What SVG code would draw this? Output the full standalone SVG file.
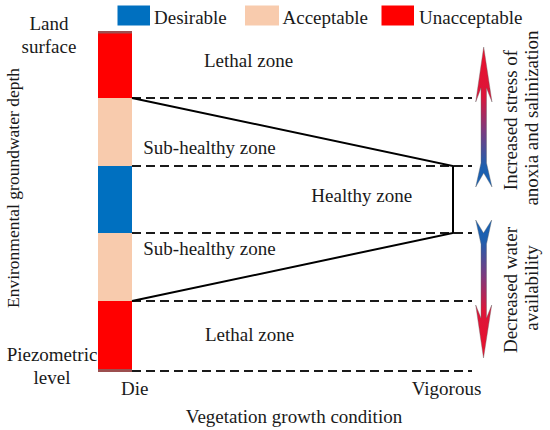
<svg xmlns="http://www.w3.org/2000/svg" width="550" height="430" viewBox="0 0 550 430">
<style>
text{font-family:"Liberation Serif","Times New Roman",serif;font-size:19px;fill:#1a1a1a}
.mid{text-anchor:middle}
.dash{stroke:#1a1a1a;stroke-width:2;stroke-dasharray:9 5;fill:none}
.solid{stroke:#000;stroke-width:2;fill:none}
.red{fill:#ff0000}.peach{fill:#f8cbad}.blue{fill:#0070c0}
.edge{fill:#9c4f4f}
.arrow{stroke:#666;stroke-width:0.4}
</style>
<defs>
<linearGradient id="gUp" gradientUnits="userSpaceOnUse" x1="0" y1="47" x2="0" y2="187">
<stop offset="0" stop-color="#ea102c"/>
<stop offset="0.35" stop-color="#dc163a"/>
<stop offset="0.6" stop-color="#7b3b80"/>
<stop offset="0.85" stop-color="#1e5fae"/>
<stop offset="1" stop-color="#1762b6"/>
</linearGradient>
<linearGradient id="gDown" gradientUnits="userSpaceOnUse" x1="0" y1="220" x2="0" y2="358">
<stop offset="0" stop-color="#1762b6"/>
<stop offset="0.15" stop-color="#1e5fae"/>
<stop offset="0.4" stop-color="#7b3b80"/>
<stop offset="0.65" stop-color="#dc163a"/>
<stop offset="1" stop-color="#ea102c"/>
</linearGradient>
</defs>
<rect width="550" height="430" fill="#fff"/>

<g id="legend">
<rect class="blue" x="117.5" y="5.5" width="32.5" height="20"/>
<text x="154" y="24">Desirable</text>
<rect class="peach" x="245" y="5.5" width="34" height="20"/>
<text x="282.5" y="24">Acceptable</text>
<rect class="red" x="381.5" y="5.5" width="32.5" height="20"/>
<text x="419" y="24">Unacceptable</text>
</g>

<g id="depth-bar">
<rect class="edge" x="98" y="31" width="34" height="3"/>
<rect class="red" x="98" y="33.5" width="34" height="64.5"/>
<rect class="peach" x="98" y="98" width="34" height="68"/>
<rect class="blue" x="98" y="166" width="34" height="67"/>
<rect class="peach" x="98" y="233" width="34" height="68"/>
<rect class="red" x="98" y="301" width="34" height="68.5"/>
<rect class="edge" x="98" y="369" width="34" height="3"/>
</g>

<g id="connectors">
<line class="dash" x1="132" y1="98" x2="472" y2="98"/>
<line class="dash" x1="132" y1="166" x2="472" y2="166"/>
<line class="dash" x1="132" y1="233" x2="472" y2="233"/>
<line class="dash" x1="132" y1="301" x2="472" y2="301"/>
<line class="dash" x1="132" y1="371" x2="472" y2="371"/>
<polyline class="solid" points="132,98 453,166 453,233 132,301"/>
</g>

<g id="zone-labels">
<text class="mid" x="248.5" y="67">Lethal zone</text>
<text class="mid" x="209.5" y="154">Sub-healthy zone</text>
<text class="mid" x="361.7" y="202">Healthy zone</text>
<text class="mid" x="209.5" y="255">Sub-healthy zone</text>
<text class="mid" x="249.5" y="340.5">Lethal zone</text>
</g>

<g id="arrow-up">
<path class="arrow" fill="url(#gUp)" d="M483.7,47 L492,102 L486.5,88 L486.5,163 L492,187 L483.7,173 L475.7,187 L481,163 L481,88 L475.7,102 Z"/>
</g>
<g id="arrow-down">
<path class="arrow" fill="url(#gDown)" d="M475.7,220 L483.5,233 L491.7,220 L486.5,244 L486.5,318 L491.7,305 L483.5,358 L475.7,305 L481,318 L481,244 Z"/>
</g>

<g id="axis-labels">
<text class="mid" x="49" y="30">Land</text>
<text class="mid" x="49" y="52.5">surface</text>
<text class="mid" x="52" y="361">Piezometric</text>
<text class="mid" x="52" y="384">level</text>
<text class="mid" style="font-size:17.5px" transform="translate(19,188) rotate(-90)">Environmental groundwater depth</text>
<text x="121" y="395">Die</text>
<text class="mid" x="446.5" y="395">Vigorous</text>
<text class="mid" x="294" y="423">Vegetation growth condition</text>
</g>

<g id="arrow-labels">
<text class="mid" transform="translate(517,120) rotate(-90)">Increased stress of</text>
<text class="mid" transform="translate(538,118) rotate(-90)">anoxia and salinization</text>
<text class="mid" transform="translate(517,290) rotate(-90)">Decreased water</text>
<text class="mid" transform="translate(538,288) rotate(-90)">availability</text>
</g>
</svg>
